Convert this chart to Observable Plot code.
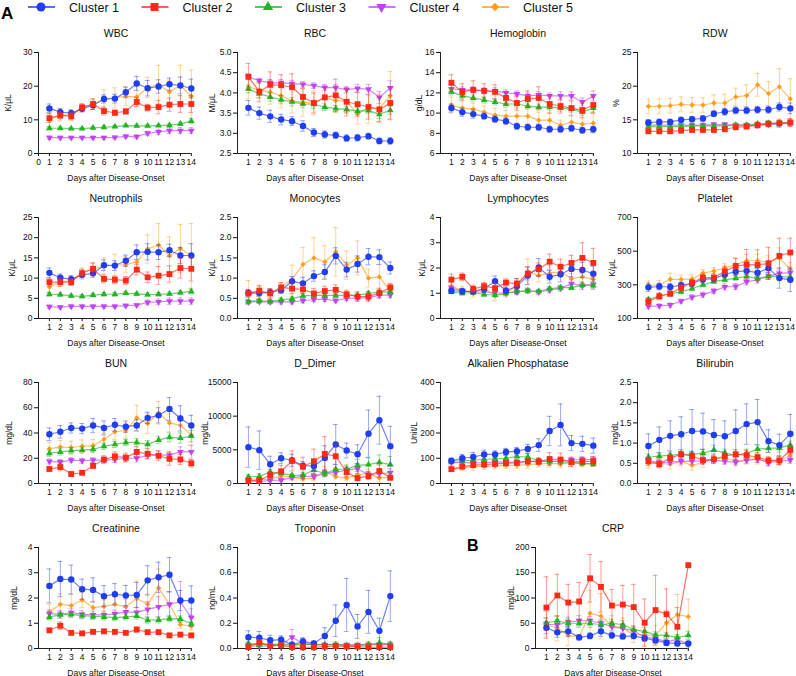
<!DOCTYPE html>
<html><head><meta charset="utf-8">
<script src="https://cdn.jsdelivr.net/npm/d3@7"></script>
<script src="https://cdn.jsdelivr.net/npm/@observablehq/plot@0.6"></script>
<style>
body{margin:0;background:#fff;font-family:"Liberation Sans",Arial,sans-serif;}
#root{position:relative;width:796px;height:676px;overflow:hidden;background:#fff;}
</style></head><body><div id="root"></div>
<script>
const days = [1,2,3,4,5,6,7,8,9,10,11,12,13,14];
const clusters = ["Cluster 1","Cluster 2","Cluster 3","Cluster 4","Cluster 5"];
const colors = ["#1f3df2","#ff2a16","#21b521","#c043f2","#ff9d1a"];
const xLabel = "Days after Disease-Onset";

// ---- WBC ----
const wbcMean = [
 [13.4,12.3,12.0,13.3,14.3,16.2,16.3,18.2,20.8,19.4,19.9,20.6,20.2,19.3],
 [10.5,11.3,11.1,13.7,14.7,12.6,12.1,12.5,15.3,13.6,13.8,14.5,14.7,14.7],
 [7.5,7.5,7.4,7.4,7.6,7.8,8.0,8.3,8.2,8.2,8.3,8.4,8.8,9.6],
 [4.7,4.7,4.7,4.7,4.7,4.7,4.8,5.1,5.0,6.0,6.4,6.8,6.8,6.8],
 [10.0,11.5,11.3,13.8,14.6,16.2,16.5,17.0,16.8,19.6,20.5,18.3,20.2,17.0]];
const wbcErr = [
 [1.3,1.0,1.0,1.0,1.2,1.2,1.3,1.5,2.1,2.3,2.0,1.8,2.5,2.8],
 [1.3,1.0,1.0,1.0,1.5,1.2,0.8,0.8,1.3,1.0,2.0,2.0,2.5,2.5],
 [0.4,0.3,0.3,0.3,0.3,0.3,0.3,0.3,0.3,0.3,0.3,0.4,0.5,0.8],
 [0.5,0.4,0.4,0.4,0.4,0.4,0.4,0.5,0.5,0.6,0.8,0.9,0.9,0.9],
 [2.0,1.8,1.5,1.0,1.6,2.7,3.0,2.8,3.0,3.0,5.7,3.5,6.0,7.8]];
// ---- RBC ----
const rbcMean = [
 [3.63,3.50,3.42,3.34,3.30,3.18,3.02,2.97,2.95,2.88,2.89,2.93,2.81,2.81],
 [4.40,4.03,4.20,4.19,4.14,3.90,3.75,3.89,3.94,3.78,3.72,3.65,3.59,3.75],
 [4.10,3.98,3.90,3.83,3.78,3.73,3.72,3.65,3.61,3.59,3.55,3.56,3.47,3.57],
 [4.40,4.30,4.25,4.25,4.23,4.21,4.18,4.13,4.13,4.08,4.11,4.09,3.89,4.12],
 [4.15,4.07,4.02,3.93,3.80,3.77,3.75,3.88,3.81,3.79,3.48,3.65,3.62,3.93]];
const rbcErr = [
 [0.18,0.15,0.15,0.13,0.11,0.13,0.10,0.09,0.08,0.08,0.08,0.07,0.07,0.08],
 [0.33,0.25,0.32,0.26,0.33,0.20,0.25,0.25,0.40,0.35,0.30,0.30,0.30,0.40],
 [0.10,0.10,0.10,0.10,0.10,0.10,0.10,0.08,0.08,0.08,0.08,0.08,0.10,0.10],
 [0.07,0.06,0.08,0.08,0.08,0.07,0.07,0.08,0.08,0.08,0.10,0.12,0.15,0.18],
 [0.30,0.20,0.30,0.30,0.30,0.35,0.30,0.30,0.30,0.30,0.25,0.40,0.35,0.60]];
// ---- Hemoglobin ----
const hgbMean = [
 [10.5,10.1,9.9,9.7,9.4,9.2,8.7,8.6,8.6,8.4,8.4,8.5,8.3,8.4],
 [13.0,12.1,12.3,12.2,12.1,11.5,11.0,11.4,11.5,10.9,10.7,10.5,10.3,10.8],
 [12.1,11.7,11.5,11.3,11.1,10.9,10.9,10.7,10.6,10.6,10.5,10.4,10.1,10.5],
 [12.4,12.3,12.3,12.2,12.2,12.0,11.9,11.7,11.8,11.7,11.7,11.7,11.1,11.7],
 [10.8,10.5,10.4,10.1,9.8,9.7,9.7,9.7,9.3,9.3,8.8,9.1,8.9,9.0]];
const hgbErr = [
 [0.4,0.4,0.4,0.3,0.3,0.3,0.3,0.3,0.3,0.3,0.3,0.3,0.3,0.3],
 [0.8,0.8,0.9,0.7,0.7,0.6,0.7,0.8,1.1,0.9,0.7,0.7,0.7,0.8],
 [0.3,0.3,0.3,0.3,0.3,0.3,0.3,0.3,0.3,0.3,0.3,0.3,0.3,0.4],
 [0.4,0.3,0.3,0.3,0.3,0.3,0.3,0.3,0.3,0.3,0.4,0.4,0.4,0.5],
 [0.8,0.7,0.6,0.6,0.7,0.6,0.8,0.8,0.8,0.7,0.5,0.6,0.6,1.0]];
// ---- RDW ----
const rdwMean = [
 [14.6,14.7,14.7,15.0,15.1,15.2,15.9,16.2,16.4,16.4,16.5,16.5,16.9,16.7],
 [13.3,13.3,13.3,13.4,13.5,13.5,13.5,13.6,13.9,14.0,14.2,14.4,14.5,14.6],
 [14.0,14.0,14.0,14.0,14.1,14.1,14.1,14.1,14.2,14.2,14.4,14.5,14.5,14.6],
 [14.2,14.2,14.2,14.2,14.2,14.2,14.3,14.3,14.2,14.2,14.2,14.3,14.4,14.5],
 [17.0,17.0,17.1,17.3,17.2,17.2,17.5,17.5,18.4,18.6,20.2,18.9,19.9,18.1]];
const rdwErr = [
 [0.4,0.4,0.4,0.4,0.4,0.4,0.4,0.5,0.5,0.5,0.5,0.5,0.6,0.8],
 [0.3,0.3,0.3,0.3,0.3,0.3,0.3,0.3,0.3,0.3,0.4,0.4,0.6,0.6],
 [0.3,0.3,0.3,0.3,0.3,0.3,0.3,0.3,0.3,0.3,0.3,0.4,0.4,0.4],
 [0.3,0.3,0.3,0.3,0.3,0.3,0.3,0.3,0.3,0.3,0.3,0.3,0.4,0.4],
 [1.1,1.1,1.1,1.1,1.1,1.1,1.2,1.3,1.3,1.6,1.7,1.8,2.7,3.0]];
// ---- Neutrophils ----
const neuMean = [
 [11.3,10.1,9.7,10.8,11.2,13.2,13.1,14.3,16.4,16.5,16.4,16.9,15.6,15.6],
 [9.0,9.0,9.0,11.2,12.3,9.8,9.6,9.4,12.1,10.2,10.6,11.0,12.5,12.3],
 [6.0,5.9,5.6,5.5,5.8,6.0,6.0,6.3,6.1,5.9,6.0,6.1,6.4,6.7],
 [2.9,2.8,3.0,3.0,3.0,3.0,3.0,3.2,3.3,4.0,4.1,4.3,4.3,4.3],
 [7.8,9.1,9.3,11.5,12.3,13.0,13.2,13.3,14.0,17.2,18.2,15.5,17.3,15.5]];
const neuErr = [
 [1.2,0.9,0.9,1.0,1.0,1.3,1.2,1.4,1.8,2.0,1.8,1.5,2.0,2.9],
 [1.0,1.0,0.8,1.0,1.4,1.0,0.9,1.0,1.3,1.3,2.2,2.0,2.5,3.0],
 [0.4,0.4,0.4,0.4,0.4,0.4,0.4,0.4,0.4,0.4,0.4,0.4,0.5,0.6],
 [0.4,0.4,0.4,0.4,0.4,0.4,0.4,0.4,0.4,0.6,0.7,0.8,0.8,0.8],
 [1.3,1.2,1.0,1.0,1.5,2.0,2.7,2.0,2.2,3.5,5.3,4.7,6.0,8.0]];
// ---- Monocytes ----
const monMean = [
 [0.63,0.63,0.65,0.70,0.92,0.87,1.05,1.15,1.55,1.21,1.35,1.53,1.52,1.25],
 [0.62,0.69,0.62,0.77,0.74,0.72,0.62,0.68,0.71,0.60,0.54,0.54,0.63,0.77],
 [0.42,0.44,0.42,0.46,0.49,0.56,0.57,0.57,0.57,0.57,0.58,0.62,0.65,0.66],
 [0.41,0.42,0.41,0.41,0.41,0.44,0.47,0.48,0.44,0.50,0.51,0.51,0.58,0.58],
 [0.64,0.65,0.62,0.78,0.97,1.34,1.50,1.40,1.65,1.32,1.50,1.00,1.03,0.68]];
const monErr = [
 [0.08,0.08,0.08,0.08,0.12,0.15,0.13,0.18,0.20,0.18,0.20,0.20,0.18,0.15],
 [0.10,0.13,0.12,0.12,0.13,0.10,0.12,0.12,0.12,0.10,0.12,0.12,0.12,0.10],
 [0.05,0.05,0.05,0.05,0.05,0.05,0.05,0.05,0.05,0.05,0.05,0.05,0.06,0.06],
 [0.05,0.05,0.05,0.05,0.05,0.05,0.05,0.06,0.05,0.06,0.06,0.06,0.07,0.07],
 [0.30,0.15,0.10,0.10,0.35,0.42,0.50,0.40,0.60,0.35,0.42,0.22,0.30,0.15]];
// ---- Lymphocytes ----
const lymMean = [
 [1.10,1.08,1.08,1.18,1.48,1.10,1.28,1.70,2.02,1.65,1.75,1.96,1.92,1.77],
 [1.54,1.65,1.17,1.28,1.20,1.42,1.38,1.78,1.95,2.25,2.05,2.20,2.40,2.20],
 [1.05,1.00,1.03,0.95,0.93,1.00,1.08,1.10,1.08,1.18,1.22,1.22,1.32,1.30],
 [1.20,1.10,1.05,1.05,1.02,1.00,1.05,1.10,1.05,1.12,1.20,1.38,1.30,1.35],
 [1.27,1.12,1.00,1.20,0.90,1.00,1.30,1.85,1.70,1.80,1.85,1.58,1.65,1.55]];
const lymErr = [
 [0.10,0.10,0.10,0.15,0.20,0.12,0.30,0.35,0.35,0.25,0.30,0.30,0.30,0.30],
 [0.22,0.15,0.15,0.15,0.20,0.15,0.20,0.25,0.25,0.30,0.30,0.30,0.60,0.58],
 [0.07,0.07,0.07,0.07,0.07,0.07,0.07,0.07,0.07,0.08,0.08,0.08,0.10,0.10],
 [0.10,0.10,0.10,0.10,0.10,0.10,0.10,0.10,0.10,0.10,0.12,0.15,0.15,0.20],
 [0.15,0.15,0.15,0.15,0.20,0.15,0.20,0.50,0.25,0.30,0.20,0.20,0.30,0.30]];
// ---- Platelet ----
const pltMean = [
 [285,290,287,298,308,333,337,362,378,383,372,398,340,330],
 [200,232,247,283,312,343,343,380,412,420,418,428,472,492],
 [213,235,247,258,278,300,320,330,340,350,337,350,350,345],
 [172,175,180,203,227,242,263,288,290,318,330,352,368,372],
 [298,300,333,332,335,370,382,400,420,443,443,433,460,392]];
const pltErr = [
 [25,20,20,18,20,20,18,20,22,22,25,25,60,70],
 [20,20,15,20,20,20,25,30,45,90,90,95,105,85],
 [12,12,12,12,12,12,12,12,14,14,14,15,16,18],
 [12,12,12,12,15,15,15,18,18,18,20,20,20,20],
 [25,25,35,25,25,20,20,25,40,40,40,40,60,40]];
// ---- BUN ----
const bunMean = [
 [39,41,44,43.5,46,44,46.5,45,46,52,54,59,51.5,46],
 [11.5,13,7.5,8.5,14,19,21.5,20.5,25,23.5,22,19.5,19,16],
 [24,25,26,26.5,27,29.5,31,32.5,32.5,31,34.5,36.5,36,37.5],
 [17.5,17,18.5,18,18.5,18.5,19,20,20,22.5,22.5,22.5,25,25],
 [27.5,29,28.5,29.5,30,35,41,42,52,47.5,56,48,46,38.5]];
const bunErr = [
 [5,5,4,4,5.5,5.5,5,4.5,4.5,4.5,6,9,10,8],
 [1.5,3,1.5,1.5,2,3,3.5,3.5,4,4,4,5,4,3],
 [2.5,2.5,2.5,2.5,2.5,2.5,2.5,2.5,3,3,3,3.5,4,4.5],
 [2,2,2,2,2,2,2.5,2.5,3,3,3,3,4,5],
 [5,5,5,5,5,5,6,6,10,8,9,7,8,8]];
// ---- D_Dimer ----
const ddMean = [
 [5400,4950,2850,3750,3450,2650,2600,3800,5800,4900,4350,7400,9400,5550],
 [400,450,1250,1800,3350,2500,3300,4400,4050,1700,800,1100,1850,850],
 [1000,1050,1700,1550,1200,1250,2000,1450,2100,2150,2700,2800,3150,2800],
 [500,300,450,500,900,1000,1100,1500,1650,2000,2200,1300,1450,1600],
 [700,600,600,1200,900,700,800,1800,1000,800,1300,1500,800,900]];
const ddErr = [
 [3000,2850,1200,800,900,600,700,1800,2950,1100,1400,3500,3550,2950],
 [300,300,600,900,1500,1400,1800,2550,1800,700,300,500,900,300],
 [300,400,400,400,300,400,600,400,700,600,900,1000,1100,1200],
 [200,200,200,200,300,300,400,500,500,600,700,500,600,600],
 [300,300,300,500,400,300,400,700,300,300,500,600,600,400]];
// ---- Alkalien Phosphatase ----
const alpMean = [
 [90,100,105,115,115,125,128,137,152,208,232,160,157,150],
 [57,67,73,75,78,80,82,88,87,97,95,85,88,88],
 [88,90,92,95,98,100,107,105,90,88,87,83,80,78],
 [83,83,82,83,85,85,85,88,88,88,90,93,95,95],
 [55,62,68,68,70,72,72,75,78,80,78,82,78,78]];
const alpErr = [
 [10,15,18,17,14,14,15,18,25,58,83,30,30,30],
 [5,8,10,8,10,10,10,10,12,25,25,18,15,18],
 [10,10,10,12,15,15,15,15,12,15,12,10,10,10],
 [10,10,10,10,10,10,10,10,10,10,10,12,12,12],
 [8,10,15,12,12,12,12,15,12,15,15,15,12,10]];
// ---- Bilirubin ----
const bilMean = [
 [0.93,1.08,1.18,1.22,1.30,1.29,1.20,1.17,1.30,1.47,1.52,1.05,0.95,1.23],
 [0.55,0.48,0.63,0.72,0.68,0.58,0.60,0.68,0.72,0.70,0.65,0.57,0.57,0.83],
 [0.65,0.68,0.70,0.72,0.72,0.75,0.83,0.75,0.70,0.75,0.85,0.87,0.88,0.95],
 [0.57,0.52,0.53,0.55,0.55,0.56,0.58,0.55,0.53,0.57,0.60,0.52,0.55,0.58],
 [0.50,0.50,0.48,0.55,0.45,0.52,0.62,0.63,0.55,0.60,0.60,0.55,0.57,0.68]];
const bilErr = [
 [0.30,0.32,0.37,0.43,0.53,0.45,0.38,0.38,0.52,0.50,0.56,0.28,0.27,0.48],
 [0.10,0.08,0.10,0.12,0.10,0.10,0.10,0.10,0.12,0.12,0.12,0.08,0.10,0.12],
 [0.08,0.08,0.08,0.08,0.08,0.10,0.12,0.10,0.10,0.10,0.10,0.10,0.10,0.10],
 [0.07,0.07,0.07,0.07,0.07,0.07,0.07,0.07,0.07,0.07,0.08,0.08,0.08,0.08],
 [0.12,0.12,0.12,0.12,0.12,0.12,0.12,0.12,0.12,0.12,0.12,0.12,0.12,0.14]];
// ---- Creatinine ----
const creMean = [
 [2.48,2.75,2.73,2.35,2.32,2.07,2.15,2.10,2.12,2.70,2.82,2.92,1.90,1.90],
 [0.72,0.90,0.62,0.60,0.66,0.68,0.66,0.62,0.75,0.65,0.65,0.52,0.55,0.52],
 [1.25,1.33,1.35,1.30,1.27,1.25,1.22,1.25,1.28,1.12,1.13,1.18,1.17,0.98],
 [1.38,1.35,1.42,1.35,1.33,1.33,1.37,1.45,1.43,1.55,1.65,1.75,1.85,1.22],
 [1.45,1.75,1.70,1.92,1.62,1.67,1.75,1.65,1.98,1.75,2.40,1.75,0.95,0.88]];
const creErr = [
 [0.67,0.70,0.57,0.40,0.48,0.42,0.42,0.40,0.50,0.58,0.60,0.68,0.40,0.58],
 [0.06,0.15,0.05,0.05,0.05,0.05,0.05,0.05,0.10,0.05,0.05,0.05,0.05,0.05],
 [0.12,0.12,0.12,0.12,0.12,0.12,0.12,0.12,0.12,0.12,0.12,0.12,0.12,0.10],
 [0.15,0.15,0.15,0.15,0.15,0.15,0.15,0.20,0.20,0.30,0.40,0.50,0.80,0.35],
 [0.30,0.42,0.45,0.30,0.25,0.25,0.30,0.30,0.70,0.40,0.75,0.50,0.15,0.15]];
// ---- Troponin ----
const tropMean = [
 [0.09,0.085,0.065,0.07,0.03,0.055,0.04,0.10,0.22,0.345,0.175,0.29,0.14,0.415],
 [0.01,0.05,0.02,0.025,0.01,0.01,0.01,0.015,0.02,0.015,0.015,0.01,0.01,0.01],
 [0.04,0.03,0.03,0.035,0.03,0.035,0.03,0.03,0.03,0.025,0.025,0.03,0.045,0.035],
 [0.02,0.02,0.02,0.03,0.09,0.04,0.03,0.03,0.03,0.03,0.03,0.03,0.03,0.03],
 [0.03,0.04,0.03,0.03,0.02,0.03,0.03,0.03,0.035,0.02,0.02,0.04,0.025,0.04]];
const tropErr = [
 [0.05,0.05,0.04,0.03,0.02,0.03,0.02,0.065,0.125,0.21,0.095,0.17,0.10,0.20],
 [0.01,0.02,0.01,0.01,0.01,0.01,0.01,0.01,0.01,0.01,0.01,0.01,0.01,0.01],
 [0.01,0.01,0.01,0.01,0.01,0.01,0.01,0.01,0.01,0.01,0.01,0.01,0.04,0.01],
 [0.01,0.01,0.01,0.01,0.06,0.04,0.01,0.01,0.01,0.01,0.01,0.01,0.01,0.01],
 [0.015,0.015,0.015,0.015,0.015,0.015,0.015,0.015,0.02,0.015,0.015,0.015,0.015,0.015]];
// ---- CRP ----
const crpMean = [
 [41,32,34,22,25,34,26,24,25,20,16,11,10,10],
 [81,105,91,93,139,122,85,87,82,51,76,68,43,165],
 [51,55,50,50,50,47,50,47,37,34,27,26,22,26],
 [48,47,52,55,55,50,43,40,35,22,20,13,18,8],
 [48,40,26,23,70,64,45,40,27,27,26,51,67,63]];
const crpErr = [
 [12,10,10,5,6,10,6,5,6,5,5,4,4,4],
 [61,42,36,38,47,50,32,38,45,47,69,50,38,0],
 [10,10,8,8,8,8,8,8,8,8,6,6,6,8],
 [12,10,10,10,8,8,8,8,8,6,6,5,5,5],
 [25,25,20,5,45,45,20,20,15,20,20,25,40,35]];

const colX = [38, 237, 440, 637];
const rowY = [52, 217, 382, 547];
const panels = [
 {title:"WBC", unit:"K/μL", mean:wbcMean, err:wbcErr, domain:[0,30], ticks:[0,10,20,30], fmt:"d", c:0, r:0, lo:29, x0:true},
 {title:"RBC", unit:"M/μL", mean:rbcMean, err:rbcErr, domain:[2.5,5], ticks:[2.5,3,3.5,4,4.5,5], fmt:".1f", c:1, r:0, lo:24},
 {title:"Hemoglobin", unit:"g/dL", mean:hgbMean, err:hgbErr, domain:[6,16], ticks:[6,8,10,12,14,16], fmt:"d", c:2, r:0, lo:20},
 {title:"RDW", unit:"%", mean:rdwMean, err:rdwErr, domain:[10,25], ticks:[10,15,20,25], fmt:"d", c:3, r:0, lo:20},
 {title:"Neutrophils", unit:"K/μL", mean:neuMean, err:neuErr, domain:[0,25], ticks:[0,5,10,15,20,25], fmt:"d", c:0, r:1, lo:25},
 {title:"Monocytes", unit:"K/μL", mean:monMean, err:monErr, domain:[0,2.5], ticks:[0,0.5,1,1.5,2,2.5], fmt:".1f", c:1, r:1, lo:24},
 {title:"Lymphocytes", unit:"K/μL", mean:lymMean, err:lymErr, domain:[0,4], ticks:[0,1,2,3,4], fmt:"d", c:2, r:1, lo:17},
 {title:"Platelet", unit:"K/μL", mean:pltMean, err:pltErr, domain:[100,700], ticks:[100,300,500,700], fmt:"d", c:3, r:1, lo:24},
 {title:"BUN", unit:"mg/dL", mean:bunMean, err:bunErr, domain:[0,80], ticks:[0,20,40,60,80], fmt:"d", c:0, r:2, lo:28},
 {title:"D_Dimer", unit:"mg/dL", mean:ddMean, err:ddErr, domain:[0,15000], ticks:[0,5000,10000,15000], fmt:"d", c:1, r:2, lo:31},
 {title:"Alkalien Phosphatase", unit:"Unit/L", mean:alpMean, err:alpErr, domain:[0,400], ticks:[0,100,200,300,400], fmt:"d", c:2, r:2, lo:25},
 {title:"Bilirubin", unit:"mg/dL", mean:bilMean, err:bilErr, domain:[0,2.5], ticks:[0,0.5,1,1.5,2,2.5], fmt:".1f", c:3, r:2, lo:21},
 {title:"Creatinine", unit:"mg/dL", mean:creMean, err:creErr, domain:[0,4], ticks:[0,1,2,3,4], fmt:"d", c:0, r:3, lo:23},
 {title:"Troponin", unit:"ng/mL", mean:tropMean, err:tropErr, domain:[0,0.8], ticks:[0,0.2,0.4,0.6,0.8], fmt:".1f", c:1, r:3, lo:24},
 {title:"CRP", unit:"mg/dL", mean:crpMean, err:crpErr, domain:[0,200], ticks:[0,50,100,150,200], fmt:"d", ax:535, r:3, lo:23}
];

const sqrt3 = Math.sqrt(3);
const triangleDown = {draw(ctx, size) {
  const y = -Math.sqrt(size / (sqrt3 * 3));
  ctx.moveTo(0, -y * 2); ctx.lineTo(-sqrt3 * y, y); ctx.lineTo(sqrt3 * y, y); ctx.closePath();
}};
const symbols = ["circle","square","triangle",triangleDown,"diamond2"];
const radii = [3.2,3.3,2.5,2.5,2.4];
const drawOrder = [4,3,2,0,1];
const FONT = '"Liberation Sans", Arial, sans-serif';
const root = document.getElementById("root");

const mL = 38, mR = 4, mT = 28, mB = 28, innerH = 101, innerW = 155;

for (const p of panels) {
  const rows = [];
  p.mean.forEach((arr, ci) => arr.forEach((v, i) => rows.push({ci, day: days[i], v, e: p.err[ci][i]})));
  const marks = [
    Plot.ruleX([0], {stroke: "#222", strokeWidth: 1}),
    Plot.ruleY([p.domain[0]], {x1: 0, x2: 14, stroke: "#222", strokeWidth: 1}),
    Plot.text([p.title], {frameAnchor: "top", dy: -19, lineAnchor: "middle", fontSize: 10.5, fill: "#111"})
  ];
  for (const ci of drawOrder) {
    const d = rows.filter(r => r.ci === ci);
    const c = colors[ci];
    marks.push(
      Plot.ruleX(d, {x: "day", y1: r => r.v - r.e, y2: r => r.v + r.e, stroke: c, strokeOpacity: 0.45, strokeWidth: 1}),
      Plot.ruleY(d.filter(r => r.e > 0), {y: r => r.v + r.e, x1: r => r.day - 0.22, x2: r => r.day + 0.22, stroke: c, strokeOpacity: 0.45, strokeWidth: 1}),
      Plot.ruleY(d.filter(r => r.e > 0), {y: r => r.v - r.e, x1: r => r.day - 0.22, x2: r => r.day + 0.22, stroke: c, strokeOpacity: 0.45, strokeWidth: 1}),
      Plot.line(d, {x: "day", y: "v", stroke: c, strokeOpacity: 0.65, strokeWidth: 1.2}),
      Plot.dot(d, {x: "day", y: "v", symbol: symbols[ci], r: radii[ci], fill: c, stroke: "none"})
    );
  }
  const el = Plot.plot({
    width: mL + innerW + mR, height: mT + innerH + mB,
    marginLeft: mL, marginRight: mR, marginTop: mT, marginBottom: mB,
    style: {fontFamily: FONT, fontSize: "8.5px", color: "#111", background: "transparent", overflow: "visible"},
    x: {domain: [0, 14.2], ticks: p.x0 ? [0, ...days] : days, tickFormat: "d", tickSize: 3, tickPadding: 2,
        label: xLabel, labelAnchor: "center", labelOffset: 27, labelArrow: "none"},
    y: {domain: p.domain, ticks: p.ticks, tickFormat: p.fmt, tickSize: 4, tickPadding: 2,
        label: p.unit, labelAnchor: "center", labelOffset: p.lo + 5, labelArrow: "none"},
    marks
  });
  const axisX = p.ax !== undefined ? p.ax : colX[p.c];
  el.style.position = "absolute";
  el.style.left = (axisX - mL) + "px";
  el.style.top = (rowY[p.r] - mT) + "px";
  root.appendChild(el);
}

function letter(txt, x, y, size) {
  const dv = document.createElement("div");
  dv.textContent = txt;
  Object.assign(dv.style, {position: "absolute", left: x + "px", top: y + "px", fontFamily: FONT, fontWeight: "bold", fontSize: size + "px", lineHeight: "1", color: "#000"});
  root.appendChild(dv);
}
letter("A", 1, 5, 17);
letter("B", 467, 538, 16);

const leg = d3.select(root).append("svg")
  .attr("width", 796).attr("height", 22)
  .style("position", "absolute").style("left", "0px").style("top", "0px")
  .style("font-family", FONT);
const legStep = 113.5, legStart = 41;
clusters.forEach((name, i) => {
  const cx = legStart + i * legStep;
  const g = leg.append("g").attr("transform", `translate(${cx},7)`);
  g.append("line").attr("x1", -13).attr("x2", 14).attr("y1", 0).attr("y2", 0)
    .attr("stroke", colors[i]).attr("stroke-width", 1.5);
  const sym = symbols[i];
  const symType = typeof sym === "string"
    ? {circle: d3.symbolCircle, square: d3.symbolSquare, triangle: d3.symbolTriangle, diamond2: d3.symbolDiamond2}[sym]
    : sym;
  const rr = i >= 2 ? 3.8 : 4.5;
  g.append("path").attr("d", d3.symbol(symType, Math.PI * rr * rr)()).attr("fill", colors[i]);
  g.append("text").attr("x", 28).attr("y", 0).attr("dy", "0.36em")
    .attr("font-size", 12.5).attr("fill", "#111").text(name);
});
</script>
</body></html>
